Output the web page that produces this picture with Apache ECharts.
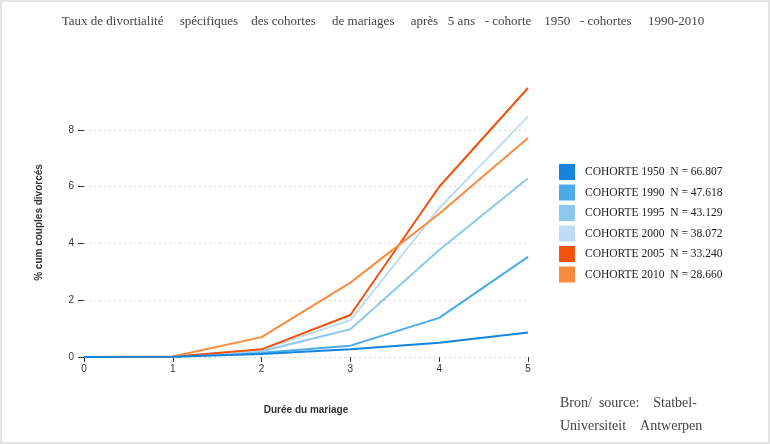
<!DOCTYPE html>
<html>
<head>
<meta charset="utf-8">
<script src="https://cdn.jsdelivr.net/npm/echarts@6/dist/echarts.min.js"></script>
<style>
html,body{margin:0;padding:0;background:#fff;}
#wrap{position:relative;width:770px;height:444px;}
#chart{position:absolute;left:0;top:0;width:770px;height:444px;}
#frame{position:absolute;left:0;top:0;width:770px;height:444px;box-sizing:border-box;border:2px solid #e4e4e4;pointer-events:none;}
</style>
</head>
<body>
<div id="wrap"><div id="chart"></div><div id="frame"></div></div>
<script>
const durations = [0, 1, 2, 3, 4, 5];
const yTickValues = [0, 2, 4, 6, 8];
const seriesNames = [
  'COHORTE 1950  N = 66.807',
  'COHORTE 1990  N = 47.618',
  'COHORTE 1995  N = 43.129',
  'COHORTE 2000  N = 38.072',
  'COHORTE 2005  N = 33.240',
  'COHORTE 2010  N = 28.660'
];
const cohorte1950 = [0, 0.01, 0.11, 0.27, 0.50, 0.86];
const cohorte1990 = [0, 0.01, 0.15, 0.40, 1.38, 3.53];
const cohorte1995 = [0, 0.01, 0.20, 0.98, 3.77, 6.30];
const cohorte2000 = [0, 0.01, 0.25, 1.30, 5.25, 8.47];
const cohorte2005 = [0, 0.01, 0.27, 1.48, 6.00, 9.48];
const cohorte2010 = [0, 0.02, 0.70, 2.62, 5.05, 7.72];
const seriesValues = [cohorte1950, cohorte1990, cohorte1995, cohorte2000, cohorte2005, cohorte2010];
const colors = ['#1484dc', '#4aaaea', '#8cc8ee', '#bedcf6', '#f0520c', '#f98b3c'];

const chart = echarts.init(document.getElementById('chart'), null, {renderer: 'canvas'});
const sans = '"Liberation Sans", Arial, sans-serif';
const serif = '"Liberation Serif", "Times New Roman", serif';

chart.setOption({
  animation: false,
  color: colors,
  title: [
    {
      text: 'Taux de divortialité     spécifiques    des cohortes     de mariages     après   5 ans   - cohorte    1950   - cohortes     1990-2010',
      left: 378, top: 10, textAlign: 'center',
      textStyle: {fontFamily: serif, fontSize: 13, fontWeight: 'normal', color: '#444'}
    },
    {
      text: 'Bron/  source:    Statbel-\nUniversiteit    Antwerpen',
      left: 555, top: 387,
      textStyle: {fontFamily: serif, fontSize: 14, fontWeight: 'normal', color: '#444', lineHeight: 23}
    }
  ],
  legend: {
    orient: 'vertical',
    left: 554, top: 159,
    itemWidth: 16, itemHeight: 16, itemGap: 4.5,
    icon: 'rect',
    data: seriesNames,
    textStyle: {fontFamily: serif, fontSize: 11.5, color: '#222', padding: [0, 0, 0, 5]}
  },
  grid: {left: 84, right: 242, top: 88, bottom: 87, containLabel: false},
  xAxis: {
    type: 'value', min: 0, max: 5, interval: 1,
    name: 'Durée du mariage', nameLocation: 'middle', nameGap: 48,
    nameTextStyle: {fontFamily: sans, fontSize: 10, fontWeight: 'bold', color: '#333'},
    axisLine: {show: false},
    axisTick: {show: true, length: 5, lineStyle: {color: '#333'}},
    axisLabel: {fontFamily: sans, fontSize: 10, color: '#333', margin: 7},
    splitLine: {show: false}
  },
  yAxis: {
    type: 'value', min: 0, max: 'dataMax', interval: 2,
    name: '% cum couples divorcés', nameLocation: 'middle', nameGap: 40,
    nameTextStyle: {fontFamily: sans, fontSize: 10, fontWeight: 'bold', color: '#333'},
    axisLine: {show: false},
    axisTick: {show: true, length: 6, lineStyle: {color: '#333'}, customValues: yTickValues},
    axisLabel: {fontFamily: sans, fontSize: 10, color: '#333', margin: 10, customValues: yTickValues},
    splitLine: {show: true, lineStyle: {color: '#d8d8d8', type: [2, 3], width: 1}}
  },
  series: seriesNames.map((name, i) => ({
    name: name,
    type: 'line',
    data: durations.map((d, j) => [d, seriesValues[i][j]]),
    showSymbol: false,
    symbol: 'none',
    lineStyle: {width: 2, color: colors[i]},
    itemStyle: {color: colors[i]},
    z: i === 0 ? 4 : 2
  }))
});
</script>
</body>
</html>
